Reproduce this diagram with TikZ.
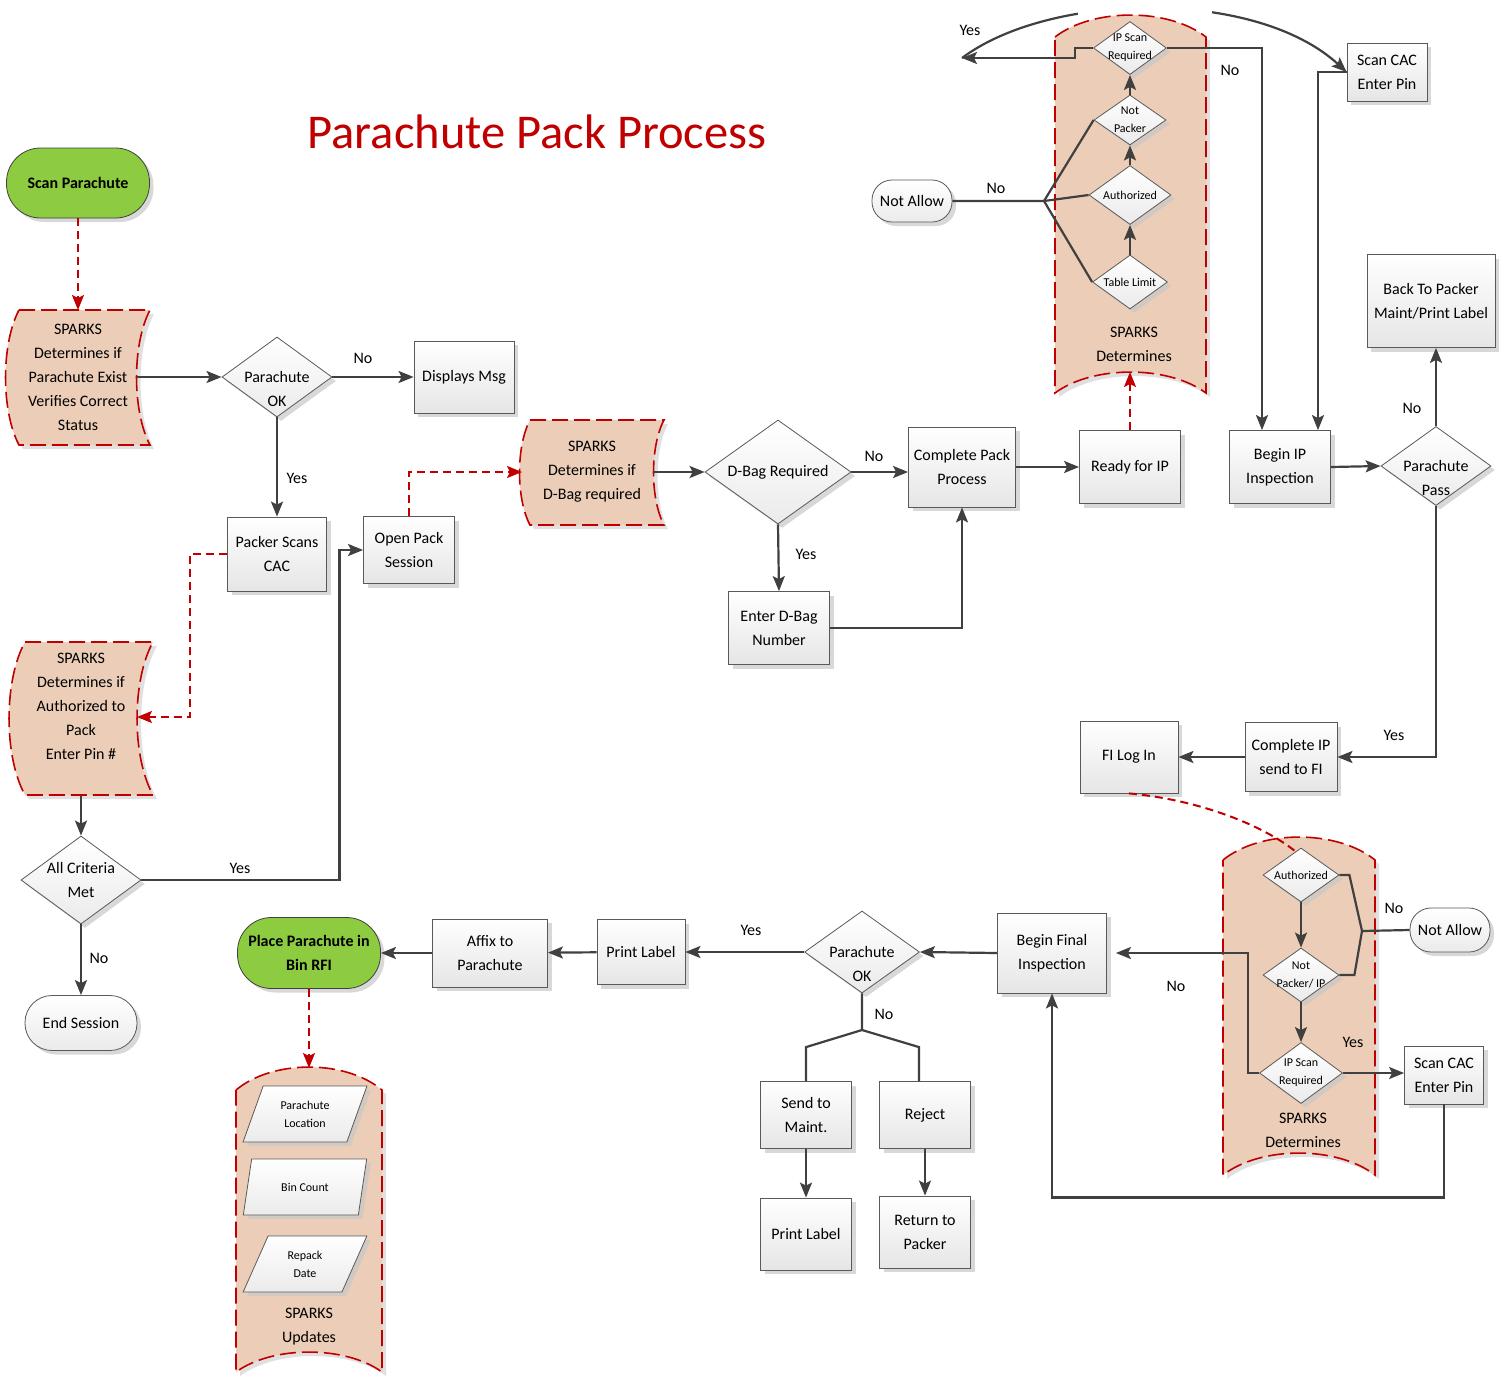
\documentclass[tikz,border=0pt]{standalone}
\usepackage{fontspec}
\setmainfont{Carlito}
\usetikzlibrary{shapes.geometric,arrows.meta,shadows,positioning}

\definecolor{sparkred}{RGB}{192,0,0}
\definecolor{peach}{RGB}{236,206,184}
\definecolor{termgreen}{RGB}{141,203,65}
\definecolor{lineg}{RGB}{64,64,64}

\tikzset{
  base/.style={draw=black!65, line width=0.8pt, align=center, inner sep=2pt,
    font=\fontsize{16}{24}\selectfont,
    drop shadow={shadow xshift=4pt, shadow yshift=-4pt, fill=black!22, opacity=0.7}},
  box/.style={base, rectangle, top color=white, bottom color=black!10},
  dec/.style={base, diamond, top color=white, bottom color=black!8, inner sep=-14pt},
  tinydec/.style={dec, font=\fontsize{12}{18}\selectfont},
  term/.style={base, rectangle, rounded corners=#1, top color=white, bottom color=black!8},
  go/.style={base, rectangle, rounded corners=34pt, fill=termgreen, draw=black!75,
    font=\bfseries\fontsize{16}{24}\selectfont},
  para/.style={base, trapezium, trapezium left angle=66, trapezium right angle=114,
    trapezium stretches=true, minimum width=124, minimum height=56, inner sep=0pt,
    top color=white, bottom color=black!8, font=\fontsize{12}{18}\selectfont},
  stext/.style={align=center, inner sep=0pt, font=\fontsize{16}{24}\selectfont},
  lab/.style={inner sep=1pt, font=\fontsize{16}{20}\selectfont},
  sparks/.style={draw=sparkred, fill=peach, line width=1.6pt, dash pattern=on 16pt off 6pt,
    drop shadow={shadow xshift=4pt, shadow yshift=-4pt, fill=black!20, opacity=0.6}},
  line/.style={draw=lineg, line width=2.2pt},
  flow/.style={line, -{Stealth[length=15pt, width=12pt, inset=3pt]}},
  redflow/.style={draw=sparkred, line width=2pt, dash pattern=on 8pt off 5pt,
    -{Stealth[length=15pt, width=12pt, inset=3pt]}}
}

% empty first line, pushes a two line text down in a diamond
\newcommand{\lowtext}{\rule{0pt}{12pt}\\}
% tape bowed to the left: cx, cy, half width, half height, bow
\newcommand{\sidebow}[5]{%
  \draw[sparks] (#1-#3,#2-#4) -- (#1+#3,#2-#4)
    .. controls (#1+#3-1.33*#5,#2-0.5*#4) and (#1+#3-1.33*#5,#2+0.5*#4) .. (#1+#3,#2+#4)
    -- (#1-#3,#2+#4)
    .. controls (#1-#3-1.33*#5,#2+0.5*#4) and (#1-#3-1.33*#5,#2-0.5*#4) .. (#1-#3,#2-#4) -- cycle;}
% tape bowed upwards: cx, cy, half width, half height, top bow, bottom bow
\newcommand{\topbow}[6]{%
  \draw[sparks] (#1-#3,#2-#4)
    .. controls (#1-0.5*#3,#2-#4-1.33*#5) and (#1+0.5*#3,#2-#4-1.33*#5) .. (#1+#3,#2-#4)
    -- (#1+#3,#2+#4)
    .. controls (#1+0.5*#3,#2+#4-1.33*#6) and (#1-0.5*#3,#2+#4-1.33*#6) .. (#1-#3,#2+#4) -- cycle;}

\begin{document}
\begin{tikzpicture}[x=1pt, y=-1pt]
  \useasboundingbox (0,0) rectangle (1502,1376);

  % title
  \node[text=sparkred, font=\fontsize{48.5}{58}\selectfont] (title) at (537,132) {Parachute Pack Process};

  % left column
  \node[go, minimum width=143, minimum height=70] (scan) at (78,183) {Scan Parachute};
  \sidebow{84.5}{377.5}{65.5}{67.5}{13.5}
  \coordinate (sp1n) at (78,310);
  \coordinate (sp1e) at (137,377);
  \node[stext] (sp1) at (78,377) {SPARKS\\Determines if\\Parachute Exist\\Verifies Correct\\Status};
  \node[dec, minimum width=110, minimum height=80] (ok1) at (277,377) {\lowtext Parachute\\OK};
  \node[box, minimum width=100, minimum height=72] (msg) at (464,377) {Displays Msg};
  \node[box, minimum width=99, minimum height=74] (cac) at (277,554) {Packer Scans\\CAC};
  \node[box, minimum width=91, minimum height=67] (open) at (409,550) {Open Pack\\Session};
  \sidebow{89}{718.5}{64}{76.5}{16}
  \coordinate (spae) at (137,717);
  \coordinate (spas) at (81,796);
  \node[stext] (spa) at (81,706) {SPARKS\\Determines if\\Authorized to\\Pack\\Enter Pin \#};
  \node[dec, minimum width=120, minimum height=88] (acm) at (81,880) {All Criteria\\Met};
  \node[term=27pt, minimum width=112, minimum height=55] (end) at (81,1023) {End Session};

  % D-Bag row
  \sidebow{597}{472.5}{67}{52.5}{10.5}
  \coordinate (sp2w) at (522,472);
  \coordinate (sp2e) at (653,472);
  \node[stext] (sp2) at (592,472) {SPARKS\\Determines if\\D-Bag required};
  \node[dec, minimum width=146, minimum height=104] (dbag) at (778,472) {D-Bag Required};
  \node[box, minimum width=107, minimum height=80] (cpp) at (962,467) {Complete Pack\\Process};
  \node[box, minimum width=101, minimum height=73] (edb) at (779,628) {Enter D-Bag\\Number};
  \node[box, minimum width=101, minimum height=73] (rip) at (1130,467) {Ready for IP};

  % IP checks (top)
  \coordinate (yesend) at (962,58);
  \node[box, minimum width=80, minimum height=58] (sc1) at (1387,72) {Scan CAC\\Enter Pin};
  \draw[flow] (yesend) .. controls (1050,-8) and (1255,-12) .. (sc1.west);
  \fill[white] (1078,-2) rectangle (1212,16);
  \topbow{1130.5}{215}{75.5}{178}{22}{21}
  \coordinate (sp3s) at (1130,372);
  \node[tinydec, minimum width=73, minimum height=53] (ips1) at (1130,48) {IP Scan\\Required};
  \node[tinydec, minimum width=72, minimum height=50] (np1) at (1130,120) {Not\\Packer};
  \node[tinydec, minimum width=82, minimum height=59] (au1) at (1130,195) {Authorized};
  \node[tinydec, minimum width=75, minimum height=54] (tl1) at (1130,282) {Table Limit};
  \node[stext] (sp3) at (1134,344) {SPARKS\\Determines};
  \node[term=20pt, minimum width=80, minimum height=42] (na1) at (912,201) {Not Allow};
  \coordinate (j1) at (1044,201);
  \node[box, minimum width=101, minimum height=73] (bip) at (1280,467) {Begin IP\\Inspection};
  \node[dec, minimum width=110, minimum height=79] (pp) at (1436,466) {\lowtext Parachute\\Pass};
  \node[box, minimum width=128, minimum height=93] (back) at (1431,301) {Back To Packer\\Maint/Print Label};
  \node[box, minimum width=92, minimum height=69] (cip) at (1291,757) {Complete IP\\send to FI};
  \node[box, minimum width=98, minimum height=72] (fil) at (1129,757) {FI Log In};

  % final inspection checks (bottom right)
  \topbow{1299}{1017.5}{76}{157.5}{23}{22}
  \coordinate (au2in) at (1295,851);
  \draw[redflow, -] (fil.south) .. controls (1200,800) and (1262,825) .. (au2in);
  \node[tinydec, minimum width=76, minimum height=54] (au2) at (1301,875) {Authorized};
  \node[tinydec, minimum width=76, minimum height=54] (np2) at (1301,975) {Not\\Packer/ IP};
  \node[tinydec, minimum width=83, minimum height=61] (ips2) at (1301,1073) {IP Scan\\Required};
  \node[stext] (sp4) at (1303,1130) {SPARKS\\Determines};
  \node[term=21pt, minimum width=80, minimum height=44] (na2) at (1450,930) {Not Allow};
  \coordinate (j2) at (1362,931);
  \node[box, minimum width=79, minimum height=58] (sc2) at (1444,1075) {Scan CAC\\Enter Pin};
  \node[box, minimum width=109, minimum height=80] (bfi) at (1052,953) {Begin Final\\Inspection};

  % bottom row
  \node[dec, minimum width=115, minimum height=82] (ok2) at (862,952) {\lowtext Parachute\\OK};
  \node[box, minimum width=88, minimum height=65] (pl1) at (641,952) {Print Label};
  \node[box, minimum width=115, minimum height=68] (affix) at (490,953) {Affix to\\Parachute};
  \node[go, minimum width=143, minimum height=71] (place) at (309,953) {Place Parachute in\\Bin RFI};
  \node[box, minimum width=91, minimum height=67] (maint) at (806,1115) {Send to\\Maint.};
  \node[box, minimum width=91, minimum height=67] (rej) at (925,1115) {Reject};
  \node[box, minimum width=91, minimum height=72] (pl2) at (806,1234) {Print Label};
  \node[box, minimum width=91, minimum height=72] (ret) at (925,1232) {Return to\\Packer};
  \coordinate (split) at (862,1030);

  % SPARKS updates
  \topbow{309}{1231}{73}{141}{23}{20}
  \coordinate (sp5n) at (309,1068);
  \node[para] (loc) at (305,1114) {Parachute\\Location};
  \node[para] (bin) at (305,1187) {Bin Count};
  \node[para] (rep) at (305,1264) {Repack\\Date};
  \node[stext] (sp5) at (309,1327) {SPARKS\\Updates};

  % connectors
  \draw[redflow] (scan) -- (sp1n);
  \draw[flow] (sp1e) -- (ok1);
  \draw[flow] (ok1) -- (msg);
  \draw[flow] (ok1) -- (cac);
  \draw[redflow] (cac.west) -- ++(-37,0) |- (spae);
  \draw[flow] (spas) -- (acm);
  \draw[flow] (acm.east) -- ++(198,0) |- (open.west);
  \draw[flow] (acm) -- (end);
  \draw[redflow] (open.north) |- (sp2w);
  \draw[flow] (sp2e) -- (dbag);
  \draw[flow] (dbag.east) -- (dbag.east -| cpp.west);
  \draw[flow] (dbag.south) -- (edb.north);
  \draw[flow] (edb.east) -| (cpp.south);
  \draw[flow] (cpp.east) -- (rip.west);
  \draw[redflow] (rip.north) -- (sp3s);

  \draw[flow] (tl1) -- (au1);
  \draw[flow] (au1) -- (np1);
  \draw[flow] (np1) -- (ips1);
  \draw[line] (na1.east) -- (j1) -- (np1.west);
  \draw[line] (j1) -- (au1.west);
  \draw[line] (j1) -- (tl1.west);
  \draw[flow] (ips1.west) -- ++(-18,0) -- ++(0,10) -- (yesend);
  \draw[flow] (ips1.east) -| ([xshift=-18pt]bip.north);
  \draw[flow] (sc1.west) -| ([xshift=38pt]bip.north);
  \draw[flow] (bip.east) -- (pp.west);
  \draw[flow] (pp.north) -- (pp.north |- back.south);
  \draw[flow] (pp.south) |- (cip.east);
  \draw[flow] (cip) -- (fil);

  \draw[flow] (au2) -- (np2);
  \draw[flow] (np2) -- (ips2);
  \draw[line] (au2.east) -- ++(10,0) -- (j2);
  \draw[line] (np2.east) -- ++(15,0) -- (j2);
  \draw[line] (j2) -- (na2.west);
  \draw[flow, shorten >=9pt] (ips2.west) -- ++(-11,0) |- (bfi.east);
  \draw[flow] (ips2.east) -- (ips2.east -| sc2.west);
  \draw[flow] (sc2.south) -- ++(0,93) -| (bfi.south);
  \draw[flow] (bfi.west) -- (ok2.east);
  \draw[flow] (ok2.west) -- (pl1.east);
  \draw[flow] (pl1) -- (affix);
  \draw[flow] (affix) -- (place);
  \draw[redflow] (place) -- (sp5n);
  \draw[line] (ok2.south) -- (split) -- ([yshift=34pt]maint.north) -- (maint.north);
  \draw[line] (split) -- ([xshift=-6pt, yshift=34pt]rej.north) -- ([xshift=-6pt]rej.north);
  \draw[flow] (maint) -- (pl2);
  \draw[flow] (rej) -- (ret);

  % branch labels
  \node[lab] (l1) at (363,358) {No};
  \node[lab] (l2) at (297,478) {Yes};
  \node[lab] (l3) at (240,868) {Yes};
  \node[lab] (l4) at (99,958) {No};
  \node[lab] (l5) at (874,456) {No};
  \node[lab] (l6) at (806,554) {Yes};
  \node[lab] (l7) at (996,188) {No};
  \node[lab] (l8) at (970,30) {Yes};
  \node[lab] (l9) at (1230,70) {No};
  \node[lab] (l10) at (1412,408) {No};
  \node[lab] (l11) at (1394,735) {Yes};
  \node[lab] (l12) at (1394,908) {No};
  \node[lab] (l13) at (1176,986) {No};
  \node[lab] (l14) at (1353,1042) {Yes};
  \node[lab] (l15) at (751,930) {Yes};
  \node[lab] (l16) at (884,1014) {No};
\end{tikzpicture}
\end{document}
